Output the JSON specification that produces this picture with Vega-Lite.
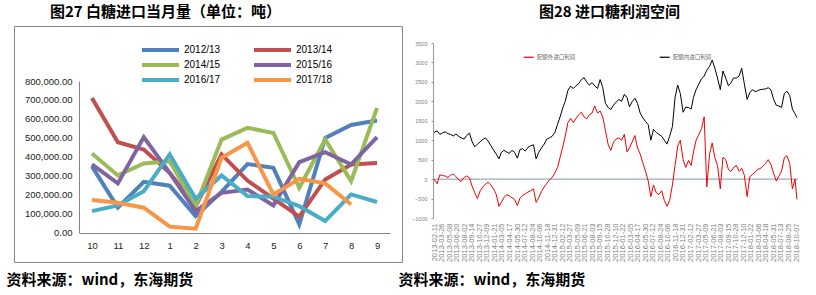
{
"$schema": "https://vega.github.io/schema/vega-lite/v6.json",
"background": "white",
"padding": {"left": 5, "top": 4, "right": 0, "bottom": 0},
"bounds": "flush",
"spacing": 31,
"config": {
  "view": {"stroke": null},
  "axis": {"labelFont": "Liberation Sans", "titleFont": "Noto Sans CJK SC"},
  "legend": {"labelFont": "Liberation Sans"},
  "title": {"font": "Noto Sans CJK SC", "fontWeight": "bold", "color": "#000000"}
},
"resolve": {"scale": {"color": "independent", "x": "independent", "y": "independent"}, "legend": {"color": "independent"}},
"datasets": {
  "imp": [
    {"m":"10","2012/13":350000,"2013/14":710000,"2014/15":418000,"2015/16":360000,"2016/17":114000,"2017/18":172000},
    {"m":"11","2012/13":132000,"2013/14":477000,"2014/15":302000,"2015/16":260000,"2016/17":144000,"2017/18":158000},
    {"m":"12","2012/13":268000,"2013/14":439000,"2014/15":365000,"2015/16":504000,"2016/17":219000,"2017/18":132000},
    {"m":"1","2012/13":248000,"2013/14":316000,"2014/15":377000,"2015/16":316000,"2016/17":413000,"2017/18":32000},
    {"m":"2","2012/13":88000,"2013/14":140000,"2014/15":140000,"2015/16":114000,"2016/17":179000,"2017/18":21000},
    {"m":"3","2012/13":215000,"2013/14":413000,"2014/15":491000,"2015/16":210000,"2016/17":302000,"2017/18":395000},
    {"m":"4","2012/13":362000,"2013/14":275000,"2014/15":553000,"2015/16":228000,"2016/17":193000,"2017/18":474000},
    {"m":"5","2012/13":342000,"2013/14":180000,"2014/15":526000,"2015/16":144000,"2016/17":190000,"2017/18":202000},
    {"m":"6","2012/13":44000,"2013/14":85000,"2014/15":237000,"2015/16":372000,"2016/17":140000,"2017/18":284000},
    {"m":"7","2012/13":500000,"2013/14":281000,"2014/15":491000,"2015/16":425000,"2016/17":62000,"2017/18":260000},
    {"m":"8","2012/13":568000,"2013/14":360000,"2014/15":272000,"2015/16":360000,"2016/17":202000,"2017/18":149000},
    {"m":"9","2012/13":592000,"2013/14":368000,"2014/15":658000,"2015/16":504000,"2016/17":162000}
  ],
  "profit": [
    {"d":"2013-02-11","out":0,"in":1200},
    {"d":"2013-03-01","out":-120,"in":1240},
    {"d":"2013-03-16","out":110,"in":1150},
    {"d":"2013-04-01","out":90,"in":1190},
    {"d":"2013-04-16","out":80,"in":1215},
    {"d":"2013-05-01","out":40,"in":1170},
    {"d":"2013-05-16","out":100,"in":1150},
    {"d":"2013-06-01","out":130,"in":1110},
    {"d":"2013-06-16","out":60,"in":1160},
    {"d":"2013-07-01","out":-20,"in":1100},
    {"d":"2013-07-16","out":-60,"in":1060},
    {"d":"2013-08-01","out":40,"in":1030},
    {"d":"2013-08-16","out":80,"in":1120},
    {"d":"2013-09-01","out":30,"in":1180},
    {"d":"2013-09-16","out":-180,"in":960},
    {"d":"2013-10-01","out":-350,"in":830},
    {"d":"2013-10-16","out":-500,"in":900},
    {"d":"2013-11-01","out":-300,"in":960},
    {"d":"2013-11-16","out":-200,"in":1020},
    {"d":"2013-12-01","out":-130,"in":1060},
    {"d":"2013-12-16","out":-80,"in":980},
    {"d":"2014-01-01","out":-150,"in":860},
    {"d":"2014-01-16","out":-250,"in":750},
    {"d":"2014-02-01","out":-400,"in":640},
    {"d":"2014-02-16","out":-700,"in":520},
    {"d":"2014-03-01","out":-600,"in":680},
    {"d":"2014-03-16","out":-480,"in":740},
    {"d":"2014-04-01","out":-400,"in":700},
    {"d":"2014-04-16","out":-430,"in":660},
    {"d":"2014-05-01","out":-480,"in":740},
    {"d":"2014-05-16","out":-520,"in":690},
    {"d":"2014-06-01","out":-680,"in":540},
    {"d":"2014-06-16","out":-490,"in":760},
    {"d":"2014-07-01","out":-420,"in":780},
    {"d":"2014-07-16","out":-380,"in":720},
    {"d":"2014-08-01","out":-330,"in":820},
    {"d":"2014-08-16","out":-300,"in":860},
    {"d":"2014-09-01","out":-250,"in":880},
    {"d":"2014-09-16","out":-600,"in":520},
    {"d":"2014-10-01","out":-480,"in":690},
    {"d":"2014-10-16","out":-320,"in":800},
    {"d":"2014-11-01","out":-200,"in":900},
    {"d":"2014-11-16","out":-110,"in":1030},
    {"d":"2014-12-01","out":-20,"in":1060},
    {"d":"2014-12-16","out":40,"in":1100},
    {"d":"2015-01-01","out":160,"in":1200},
    {"d":"2015-01-16","out":300,"in":1410},
    {"d":"2015-02-01","out":580,"in":1620},
    {"d":"2015-02-16","out":850,"in":1850},
    {"d":"2015-03-01","out":1100,"in":2000},
    {"d":"2015-03-16","out":1450,"in":2280},
    {"d":"2015-04-01","out":1560,"in":2390},
    {"d":"2015-04-16","out":1450,"in":2330},
    {"d":"2015-05-01","out":1560,"in":2400},
    {"d":"2015-05-16","out":1650,"in":2450},
    {"d":"2015-06-01","out":1720,"in":2560},
    {"d":"2015-06-16","out":1600,"in":2610},
    {"d":"2015-07-01","out":1550,"in":2500},
    {"d":"2015-07-16","out":1650,"in":2420},
    {"d":"2015-08-01","out":1700,"in":2480},
    {"d":"2015-08-16","out":1880,"in":2400},
    {"d":"2015-09-01","out":1700,"in":2330},
    {"d":"2015-09-16","out":1750,"in":2560},
    {"d":"2015-10-01","out":1600,"in":2350},
    {"d":"2015-10-16","out":1250,"in":1950},
    {"d":"2015-11-01","out":880,"in":1840},
    {"d":"2015-11-16","out":740,"in":1790},
    {"d":"2015-12-01","out":950,"in":1900},
    {"d":"2015-12-16","out":1030,"in":1980},
    {"d":"2016-01-01","out":1060,"in":2050},
    {"d":"2016-01-16","out":1000,"in":2000},
    {"d":"2016-02-01","out":1150,"in":2180},
    {"d":"2016-02-16","out":700,"in":2100},
    {"d":"2016-03-01","out":800,"in":1860},
    {"d":"2016-03-16","out":950,"in":1990},
    {"d":"2016-04-01","out":1120,"in":2080},
    {"d":"2016-04-16","out":800,"in":1950},
    {"d":"2016-05-01","out":650,"in":1700},
    {"d":"2016-05-16","out":420,"in":1580},
    {"d":"2016-06-01","out":200,"in":1480},
    {"d":"2016-06-16","out":-50,"in":1400},
    {"d":"2016-07-01","out":-450,"in":1000},
    {"d":"2016-07-16","out":-150,"in":1280},
    {"d":"2016-08-01","out":-350,"in":1200},
    {"d":"2016-08-16","out":-400,"in":1150},
    {"d":"2016-09-01","out":-300,"in":1100},
    {"d":"2016-09-16","out":-550,"in":1000},
    {"d":"2016-10-01","out":-700,"in":900},
    {"d":"2016-10-16","out":-550,"in":1100},
    {"d":"2016-11-01","out":-150,"in":1350},
    {"d":"2016-11-16","out":350,"in":2100},
    {"d":"2016-12-01","out":850,"in":2420},
    {"d":"2016-12-16","out":1000,"in":2200},
    {"d":"2017-01-01","out":500,"in":1720},
    {"d":"2017-01-16","out":300,"in":1850},
    {"d":"2017-02-01","out":480,"in":1840},
    {"d":"2017-02-16","out":350,"in":1800},
    {"d":"2017-03-01","out":700,"in":2100},
    {"d":"2017-03-16","out":1000,"in":2300},
    {"d":"2017-04-01","out":1150,"in":2450},
    {"d":"2017-04-16","out":1300,"in":2580},
    {"d":"2017-05-01","out":1600,"in":2650},
    {"d":"2017-05-16","out":-200,"in":2800},
    {"d":"2017-06-01","out":650,"in":2900},
    {"d":"2017-06-16","out":930,"in":3060},
    {"d":"2017-07-01","out":550,"in":2850},
    {"d":"2017-07-16","out":350,"in":2600},
    {"d":"2017-08-01","out":-250,"in":2300},
    {"d":"2017-08-16","out":560,"in":2780},
    {"d":"2017-09-01","out":500,"in":2600},
    {"d":"2017-09-16","out":250,"in":2400},
    {"d":"2017-10-01","out":200,"in":2480},
    {"d":"2017-10-16","out":300,"in":2600},
    {"d":"2017-11-01","out":350,"in":2600},
    {"d":"2017-11-16","out":200,"in":2650},
    {"d":"2017-12-01","out":280,"in":2850},
    {"d":"2017-12-16","out":100,"in":2450},
    {"d":"2018-01-01","out":-450,"in":2050},
    {"d":"2018-01-16","out":60,"in":2220},
    {"d":"2018-02-01","out":120,"in":2300},
    {"d":"2018-02-16","out":180,"in":2250},
    {"d":"2018-03-01","out":250,"in":2270},
    {"d":"2018-03-16","out":270,"in":2300},
    {"d":"2018-04-01","out":330,"in":2310},
    {"d":"2018-04-16","out":400,"in":2320},
    {"d":"2018-05-01","out":500,"in":2350},
    {"d":"2018-05-16","out":380,"in":2300},
    {"d":"2018-06-01","out":150,"in":2050},
    {"d":"2018-06-16","out":-50,"in":1900},
    {"d":"2018-07-01","out":80,"in":1880},
    {"d":"2018-07-16","out":200,"in":1840},
    {"d":"2018-08-01","out":550,"in":2200},
    {"d":"2018-08-16","out":600,"in":2260},
    {"d":"2018-09-01","out":400,"in":2150},
    {"d":"2018-09-16","out":-250,"in":1800},
    {"d":"2018-10-01","out":0,"in":1680},
    {"d":"2018-10-12","out":-520,"in":1580}
  ]
},
"hconcat": [
  {
    "width": 388,
    "height": 236,
    "view": {"stroke": "#868686", "strokeWidth": 1},
    "title": {"text": "图27 白糖进口当月量（单位：吨）", "anchor": "start", "dx": 44, "fontSize": 15, "offset": 6},
    "data": {"name": "imp"},
    "transform": [{"fold": ["2012/13", "2013/14", "2014/15", "2015/16", "2016/17", "2017/18"], "as": ["s", "v"]}],
    "mark": {"type": "line", "strokeWidth": 4},
    "encoding": {
      "x": {
        "field": "m", "type": "ordinal",
        "sort": ["10", "11", "12", "1", "2", "3", "4", "5", "6", "7", "8", "9"],
        "scale": {"type": "point", "range": [65, 376], "padding": 0.5},
        "axis": {
          "orient": "bottom", "offset": -29, "labelAngle": 0, "ticks": false,
          "domainColor": "#868686", "labelFontSize": 9.5, "labelColor": "#222222", "labelPadding": 7,
          "title": "资料来源：wind，东海期货", "titleFontSize": 15, "titleFontWeight": "bold", "titleColor": "#000000",
          "titleX": -8, "titleY": 39, "titleAlign": "left", "titleBaseline": "top", "titleAngle": 0
        }
      },
      "y": {
        "field": "v", "type": "quantitative",
        "scale": {"domain": [0, 800000], "range": [206.7, 55], "nice": false},
        "axis": {
          "orient": "left", "offset": -65, "ticks": false, "grid": false,
          "values": [0, 100000, 200000, 300000, 400000, 500000, 600000, 700000, 800000],
          "format": ",.2f", "domainColor": "#868686", "labelFontSize": 9.5, "labelColor": "#222222",
          "labelPadding": 7, "title": null, "labelOverlap": false
        }
      },
      "color": {
        "field": "s", "type": "nominal",
        "scale": {"domain": ["2012/13", "2013/14", "2014/15", "2015/16", "2016/17", "2017/18"],
                  "range": ["#4F81BD", "#C0504D", "#9BBB59", "#8064A2", "#4BACC6", "#F79646"]},
        "legend": {
          "orient": "none", "legendX": 139.5, "legendY": 17, "columns": 2, "columnPadding": 25, "rowPadding": -4,
          "values": ["2012/13", "2014/15", "2016/17", "2013/14", "2015/16", "2017/18"],
          "symbolType": "M-3.7,0H3.7", "symbolSize": 100, "symbolStrokeWidth": 4, "labelOffset": 16.5,
          "labelFontSize": 10, "labelColor": "#000000", "title": null, "padding": 0
        }
      },
      "order": {"value": null}
    }
  },
  {
    "width": 365,
    "height": 236,
    "title": {"text": "图28 进口糖利润空间", "anchor": "middle", "dx": -6, "fontSize": 15, "offset": 6},
    "layer": [
      {
        "data": {"values": [{"v": 0}]},
        "mark": {"type": "rule", "color": "#8497B0", "strokeWidth": 1},
        "encoding": {
          "y": {
            "field": "v", "type": "quantitative",
            "scale": {"domain": [-1000, 3500], "range": [192, 17], "nice": false, "zero": false},
            "axis": {
              "values": [-1000, -500, 0, 500, 1000, 1500, 2000, 2500, 3000, 3500],
              "format": "d", "labelFontSize": 5.5, "labelColor": "#808080", "domainColor": "#999999",
              "tickColor": "#999999", "tickSize": 2, "labelPadding": 4, "grid": false, "title": null,
              "labelOverlap": false, "labelFlush": false, "labelBound": false
            }
          }
        }
      },
      {
        "data": {"name": "profit"},
        "transform": [{"fold": ["out", "in"], "as": ["s", "v"]}],
        "mark": {"type": "line", "strokeWidth": 1},
        "encoding": {
          "x": {
            "field": "d", "type": "temporal",
            "scale": {"type": "utc", "domain": [{"year": 2013, "month": 2, "date": 5, "utc": true}, {"year": 2018, "month": 10, "date": 18, "utc": true}]},
            "axis": {
              "values": [
                {"year":2013,"month":2,"date":11,"utc":true},{"year":2013,"month":3,"date":26,"utc":true},{"year":2013,"month":5,"date":8,"utc":true},{"year":2013,"month":6,"date":20,"utc":true},{"year":2013,"month":8,"date":2,"utc":true},{"year":2013,"month":9,"date":14,"utc":true},{"year":2013,"month":10,"date":27,"utc":true},{"year":2013,"month":12,"date":9,"utc":true},
                {"year":2014,"month":1,"date":21,"utc":true},{"year":2014,"month":3,"date":5,"utc":true},{"year":2014,"month":4,"date":17,"utc":true},{"year":2014,"month":5,"date":30,"utc":true},{"year":2014,"month":7,"date":12,"utc":true},{"year":2014,"month":8,"date":24,"utc":true},{"year":2014,"month":10,"date":6,"utc":true},{"year":2014,"month":11,"date":18,"utc":true},{"year":2014,"month":12,"date":31,"utc":true},
                {"year":2015,"month":2,"date":12,"utc":true},{"year":2015,"month":3,"date":27,"utc":true},{"year":2015,"month":5,"date":9,"utc":true},{"year":2015,"month":6,"date":21,"utc":true},{"year":2015,"month":8,"date":3,"utc":true},{"year":2015,"month":9,"date":15,"utc":true},{"year":2015,"month":10,"date":28,"utc":true},{"year":2015,"month":12,"date":10,"utc":true},
                {"year":2016,"month":1,"date":22,"utc":true},{"year":2016,"month":3,"date":5,"utc":true},{"year":2016,"month":4,"date":17,"utc":true},{"year":2016,"month":5,"date":30,"utc":true},{"year":2016,"month":7,"date":12,"utc":true},{"year":2016,"month":8,"date":24,"utc":true},{"year":2016,"month":10,"date":6,"utc":true},{"year":2016,"month":11,"date":18,"utc":true},{"year":2016,"month":12,"date":31,"utc":true},
                {"year":2017,"month":2,"date":12,"utc":true},{"year":2017,"month":3,"date":27,"utc":true},{"year":2017,"month":5,"date":9,"utc":true},{"year":2017,"month":6,"date":21,"utc":true},{"year":2017,"month":8,"date":3,"utc":true},{"year":2017,"month":9,"date":15,"utc":true},{"year":2017,"month":10,"date":28,"utc":true},{"year":2017,"month":12,"date":10,"utc":true},
                {"year":2018,"month":1,"date":22,"utc":true},{"year":2018,"month":3,"date":6,"utc":true},{"year":2018,"month":4,"date":18,"utc":true},{"year":2018,"month":5,"date":31,"utc":true},{"year":2018,"month":7,"date":13,"utc":true},{"year":2018,"month":8,"date":25,"utc":true},{"year":2018,"month":10,"date":7,"utc":true}
              ],
              "format": "%Y-%m-%d", "labelAngle": 270, "labelFontSize": 7.5, "labelColor": "#808080",
              "domain": false, "ticks": false, "grid": false, "offset": -39, "labelPadding": 0,
              "labelOverlap": false, "labelFlush": false, "labelBound": false,
              "title": "资料来源：wind，东海期货", "titleFontSize": 15, "titleFontWeight": "bold", "titleColor": "#000000",
              "titleX": -35, "titleY": 49, "titleAlign": "left", "titleBaseline": "top", "titleAngle": 0
            }
          },
          "y": {
            "field": "v", "type": "quantitative",
            "scale": {"domain": [-1000, 3500], "range": [192, 17], "nice": false, "zero": false},
            "axis": {
              "values": [-1000, -500, 0, 500, 1000, 1500, 2000, 2500, 3000, 3500],
              "format": "d", "labelFontSize": 5.5, "labelColor": "#808080", "domainColor": "#999999",
              "tickColor": "#999999", "tickSize": 2, "labelPadding": 4, "grid": false, "title": null,
              "labelOverlap": false, "labelFlush": false, "labelBound": false
            }
          },
          "color": {
            "field": "s", "type": "nominal",
            "scale": {"domain": ["out", "in"], "range": ["#F00000", "#000000"]},
            "legend": {
              "orient": "none", "legendX": 89.7, "legendY": 25, "direction": "horizontal", "columnPadding": 81,
              "symbolType": "stroke", "symbolSize": 100, "symbolStrokeWidth": 1.2, "labelFontSize": 5.5,
              "labelFont": "Noto Sans CJK SC", "labelColor": "#666666", "labelOffset": 2, "title": null, "padding": 0,
              "labelExpr": "datum.label == 'out' ? '配额外进口利润' : '配额内进口利润'"
            }
          }
        }
      }
    ]
  }
]
}
